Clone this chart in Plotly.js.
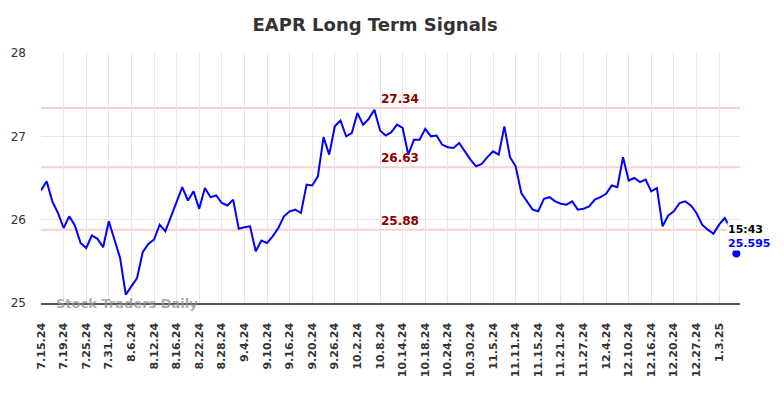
<!DOCTYPE html>
<html>
<head>
<meta charset="utf-8">
<script src="https://cdn.plot.ly/plotly-3.0.1.min.js"></script>
<style>html,body{margin:0;padding:0;background:#fff;}#chart{width:784px;height:398px;}</style>
</head>
<body>
<div id="chart"></div>
<script>
// Daily closing values (trading-day index 0 = 7.15.24)
const prices = [
  26.35, 26.46, 26.22, 26.08, 25.90, 26.04, 25.93, 25.72, 25.66, 25.81,
  25.77, 25.67, 25.98, 25.76, 25.54, 25.10, 25.20, 25.30, 25.61, 25.71,
  25.76, 25.94, 25.86, 26.04, 26.22, 26.39, 26.23, 26.34, 26.13, 26.38,
  26.27, 26.29, 26.20, 26.17, 26.24, 25.89, 25.91, 25.92, 25.62, 25.75,
  25.72, 25.80, 25.90, 26.04, 26.10, 26.12, 26.08, 26.42, 26.41, 26.52,
  26.99, 26.78, 27.12, 27.19, 27.00, 27.04, 27.28, 27.14, 27.21, 27.32,
  27.07, 27.01, 27.05, 27.14, 27.10, 26.78, 26.96, 26.96, 27.09, 27.00,
  27.01, 26.90, 26.87, 26.86, 26.92, 26.82, 26.72, 26.64, 26.67, 26.75,
  26.82, 26.78, 27.12, 26.75, 26.64, 26.32, 26.22, 26.12, 26.10, 26.25,
  26.27, 26.22, 26.19, 26.18, 26.22, 26.12, 26.13, 26.16, 26.24, 26.27,
  26.31, 26.41, 26.39, 26.75, 26.47, 26.50, 26.45, 26.48, 26.34, 26.38,
  25.92, 26.05, 26.10, 26.20, 26.22, 26.17, 26.08, 25.94, 25.88, 25.83,
  25.94, 26.02, 25.90
];
const tickLabels = ["7.15.24","7.19.24","7.25.24","7.31.24","8.6.24","8.12.24","8.16.24","8.22.24",
  "8.28.24","9.4.24","9.10.24","9.16.24","9.20.24","9.26.24","10.2.24","10.8.24","10.14.24",
  "10.18.24","10.24.24","10.30.24","11.5.24","11.11.24","11.15.24","11.21.24","11.27.24",
  "12.4.24","12.10.24","12.16.24","12.20.24","12.27.24","1.3.25"];
const tickStep = 4;
const levels = [27.34, 26.63, 25.88];
const levelLabels = ["27.34", "26.63", "25.88"];
const lastPrice = 25.595;
const lastTime = "15:43";
const lastPriceIndex = 123.05;

const xIdx = prices.map((_, i) => i);
const tickVals = tickLabels.map((_, i) => i * tickStep);
const lastIdx = prices.length - 1;

const font = "DejaVu Sans, sans-serif";

const traces = [
  {
    x: xIdx, y: prices, type: "scatter", mode: "lines",
    line: {color: "#0000ff", width: 2}, hoverinfo: "skip"
  },
  {
    x: [lastIdx, lastPriceIndex], y: [prices[lastIdx], lastPrice], type: "scatter", mode: "lines",
    line: {color: "#0000ff", width: 1.5, dash: "dot"}, hoverinfo: "skip"
  },
  {
    x: [lastPriceIndex], y: [lastPrice], type: "scatter", mode: "markers",
    marker: {color: "#0000ff", size: 8}, cliponaxis: false, hoverinfo: "skip"
  }
];

const shapes = levels.map(v => ({
  type: "line", xref: "paper", x0: 0, x1: 1, yref: "y", y0: v, y1: v,
  line: {color: "rgb(255,205,205)", width: 2}, layer: "below"
}));

const annotations = levels.map((v, i) => ({
  xref: "paper", x: 0.513, yref: "y", y: v, yanchor: "bottom", xanchor: "center",
  text: "<b>" + levelLabels[i] + "</b>", showarrow: false,
  font: {family: font, size: 12, color: "#8b0000"}
}));
annotations.push({
  xref: "x", x: lastPriceIndex, yref: "y", y: lastPrice, xanchor: "left", yanchor: "middle",
  xshift: -9, yshift: 24, text: "<b>" + lastTime + "</b>", showarrow: false,
  bgcolor: "#ffffff", borderpad: 0,
  font: {family: font, size: 11, color: "#000000"}
});
annotations.push({
  xref: "x", x: lastPriceIndex, yref: "y", y: lastPrice, xanchor: "left", yanchor: "middle",
  xshift: -9, yshift: 10, text: "<b>" + lastPrice + "</b>", showarrow: false,
  bgcolor: "#ffffff", borderpad: 0,
  font: {family: font, size: 11, color: "#0000ff"}
});
annotations.push({
  xref: "paper", x: 0.018, yref: "y", y: 25, xanchor: "left", yanchor: "middle",
  text: "<b>Stock Traders Daily</b>", showarrow: false,
  font: {family: font, size: 13, color: "rgba(150,150,150,0.8)"}
});

const layout = {
  width: 784, height: 398,
  margin: {l: 41, r: 44, t: 53, b: 95},
  paper_bgcolor: "#ffffff", plot_bgcolor: "#ffffff",
  showlegend: false,
  title: {
    text: "<b>EAPR Long Term Signals</b>",
    font: {family: font, size: 18, color: "#333333"},
    xref: "paper", x: 0.478, xanchor: "center",
    yref: "container", y: 0.937, yanchor: "middle"
  },
  xaxis: {
    range: [0, 123.7], tickmode: "array", tickvals: tickVals,
    ticktext: tickLabels.map(t => "<b>" + t + "</b>"),
    tickangle: -90, tickfont: {family: font, size: 11, color: "#333333"},
    showgrid: true, gridcolor: "#e6e6e6", gridwidth: 1,
    zeroline: false, showline: true, linecolor: "#555555", linewidth: 1.5,
    ticks: "", ticklabelstandoff: 14, fixedrange: true
  },
  yaxis: {
    range: [25, 28], tickvals: [25, 26, 27, 28],
    tickfont: {family: font, size: 12, color: "#333333"},
    showgrid: true, gridcolor: "#e6e6e6", gridwidth: 1,
    zeroline: false, showline: false, ticks: "", ticklabelstandoff: 14, fixedrange: true
  },
  shapes: shapes,
  annotations: annotations
};

Plotly.newPlot("chart", traces, layout, {displayModeBar: false, staticPlot: true});
</script>
</body>
</html>
